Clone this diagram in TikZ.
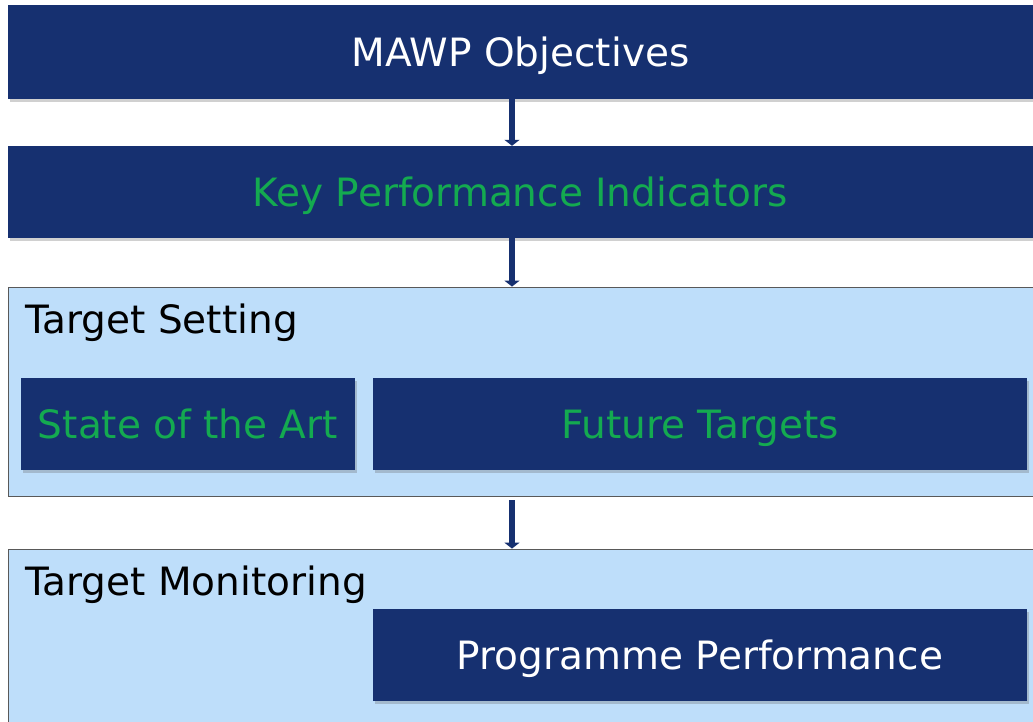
\documentclass[tikz,border=0pt]{standalone}
\usepackage{fontspec}
\setmainfont{DejaVu Sans}
\usetikzlibrary{positioning,arrows.meta,shadows}
\definecolor{mawpblue}{RGB}{22,48,112}
\definecolor{panelblue}{RGB}{190,222,250}
\definecolor{kpigreen}{RGB}{20,170,80}

\begin{document}
\begin{tikzpicture}[x=1pt, y=-1pt,
    bluebox/.style={rectangle, fill=mawpblue, inner sep=0pt, minimum height=92pt,
        text height=28.5pt, text depth=0pt,
        drop shadow={shadow xshift=1.5pt, shadow yshift=-3pt, opacity=0.3, fill=black!60},
        font=\fontsize{39}{45}\selectfont},
    panel/.style={rectangle, fill=panelblue, draw=black!65, line width=0.8pt, inner sep=0pt},
    paneltitle/.style={anchor=west, inner sep=0pt, text height=28.5pt, text depth=0pt,
        font=\fontsize{39}{45}\selectfont},
    flow/.style={mawpblue, line width=6pt, -{Triangle[width=15pt,length=6pt]}}]
    % page
    \useasboundingbox (0,0) rectangle (1033,722);
    \fill[white] (0,0) rectangle (1033,722);
    \coordinate (axis) at (512,0);

    % Objectives and KPIs
    \node[bluebox, text=white, minimum width=1025pt, minimum height=94pt] (obj) at (520.5,52) {MAWP Objectives};
    \node[bluebox, text=kpigreen, minimum width=1025pt] (kpi) at (520.5,192) {Key Performance Indicators};

    % Target setting
    \node[panel, minimum width=1027pt, minimum height=209pt] (setting) at (521.5,391.5) {};
    \node[paneltitle] (settitle) at (25,319) {Target Setting};
    \node[bluebox, text=kpigreen, minimum width=334pt] (art) at (188,424) {State of the Art};
    \node[bluebox, text=kpigreen, minimum width=654pt] (future) at (700,424) {Future Targets};

    % Target monitoring
    \node[panel, minimum width=1027pt, minimum height=185pt] (monitor) at (521.5,641.5) {};
    \node[paneltitle] (montitle) at (25,581) {Target Monitoring};
    \node[bluebox, text=white, minimum width=654pt] (perf) at (700,655) {Programme Performance};

    % Arrows
    \draw[flow] (obj.south -| axis) -- (kpi.north -| axis);
    \draw[flow] (kpi.south -| axis) -- (setting.north -| axis);
    \draw[flow, shorten <=4pt] (setting.south -| axis) -- (monitor.north -| axis);
\end{tikzpicture}
\end{document}
